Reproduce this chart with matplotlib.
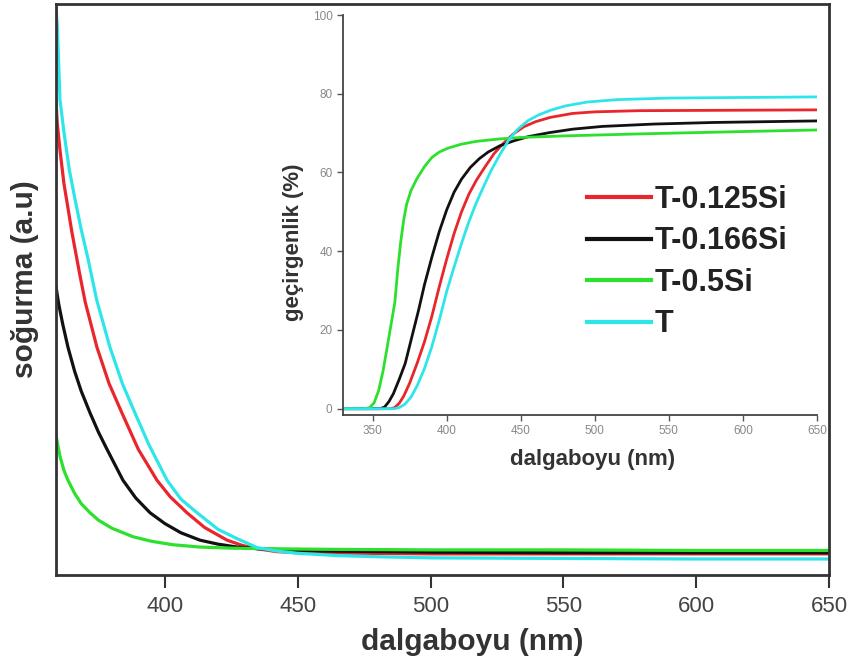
import matplotlib
matplotlib.use("Agg")
import matplotlib.pyplot as plt

plt.rcParams["font.family"] = ["Liberation Sans", "DejaVu Sans"]

# main panel: absorption (arbitrary units, 0 = bottom of frame, 1 = top)
abs_0125_x = [359, 359.5, 360.5, 362, 363, 365, 368, 370, 374.4, 379, 383.8, 390, 397, 402,
              408.3, 415, 423.4, 429, 434.7, 442, 450, 475, 500, 550, 600, 650]
abs_0125_y = [0.83, 0.79, 0.744, 0.685, 0.657, 0.60, 0.525, 0.478, 0.399, 0.335, 0.284, 0.22,
              0.166, 0.137, 0.109, 0.083, 0.061, 0.052, 0.046, 0.041, 0.039, 0.038, 0.037,
              0.037, 0.037, 0.037]
abs_0166_x = [359, 360, 361.5, 363.5, 366, 368.5, 371.8, 375, 378, 384.2, 389, 394.4, 400,
              406, 413.2, 420, 427.1, 435, 445, 460, 500, 550, 600, 650]
abs_0166_y = [0.505, 0.475, 0.44, 0.399, 0.357, 0.322, 0.284, 0.25, 0.222, 0.166, 0.135, 0.109,
              0.09, 0.074, 0.061, 0.054, 0.049, 0.046, 0.044, 0.042, 0.040, 0.039, 0.039, 0.039]
abs_05_x = [359, 359.5, 360.5, 362, 363.5, 366, 368.5, 371.8, 375, 380, 388, 395, 403, 413,
            425, 440, 460, 500, 550, 600, 650]
abs_05_y = [0.245, 0.232, 0.208, 0.183, 0.166, 0.143, 0.125, 0.109, 0.096, 0.082, 0.067, 0.059,
            0.053, 0.049, 0.047, 0.046, 0.045, 0.044, 0.044, 0.043, 0.043]
abs_T_x = [359, 359.5, 360.5, 362, 364, 366.2, 368.5, 371, 374.3, 379.3, 384, 388.7, 394,
           400.8, 406, 412.1, 420, 427, 434.7, 442, 450, 465, 480, 500, 550, 600, 650]
abs_T_y = [0.995, 0.96, 0.832, 0.775, 0.71, 0.657, 0.605, 0.555, 0.482, 0.399, 0.335, 0.284,
           0.228, 0.166, 0.133, 0.109, 0.080, 0.064, 0.048, 0.042, 0.038, 0.034, 0.032, 0.030,
           0.029, 0.028, 0.028]

# inset: transmittance (%)
tr_0125_x = [330, 362, 365, 368, 371, 375, 380, 385, 390, 395, 400, 405, 410, 415, 420, 426,
             432, 438, 445, 452, 460, 470, 485, 500, 530, 650]
tr_0125_y = [0, 0, 0.3, 1.4, 3.2, 6.5, 11.5, 17, 23.5, 31, 38, 44.5, 50, 54.5, 58, 61.5,
             64.8, 67.3, 69.8, 71.6, 72.9, 74, 75, 75.4, 75.7, 75.9]
tr_0166_x = [330, 355, 358, 361, 364, 368, 372, 377, 381, 385, 390, 395, 400, 405, 410, 416,
             422, 428, 436, 445, 455, 469, 485, 505, 540, 580, 650]
tr_0166_y = [0, 0, 0.4, 1.8, 3.8, 7.5, 11.5, 19, 25, 31.5, 38.5, 45, 50.5, 55, 58.3, 61.3,
             63.5, 65.2, 66.8, 68, 69.1, 70.1, 71, 71.7, 72.3, 72.7, 73.1]
tr_05_x = [330, 345, 348, 351, 354, 357, 360, 362.5, 365, 367, 369, 371, 373, 376, 380, 385,
           390, 395, 401, 410, 420, 435, 450, 480, 530, 600, 650]
tr_05_y = [0, 0, 0.3, 1.5, 4.5, 9.5, 16, 21.5, 27, 35.5, 42.5, 48, 52, 55.5, 58.5, 61.5,
           63.8, 65.2, 66.2, 67.2, 67.9, 68.5, 68.9, 69.3, 69.8, 70.4, 70.8]
tr_T_x = [330, 365, 368, 372, 376, 380, 385, 390, 395, 400, 405, 410, 415, 420, 425, 430,
          436, 442, 448, 455, 462, 470, 480, 495, 515, 550, 650]
tr_T_y = [0, 0, 0.3, 1.2, 3, 5.8, 10.2, 15.8, 22.5, 29.8, 36, 42, 47.5, 52.3, 56.5, 60.5,
          64.6, 68.3, 71, 73.2, 74.6, 75.8, 76.9, 77.9, 78.5, 78.9, 79.2]

labels = ["T-0.125Si", "T-0.166Si", "T-0.5Si", "T"]
colors = ["#e8262b", "#111111", "#2de02d", "#2ee6ea"]

fig = plt.figure(figsize=(8.54, 6.68), dpi=100)

# main axes
ax = fig.add_axes([56 / 854, 1 - 575 / 668, (829 - 56) / 854, (575 - 4) / 668])
for xs, ys, c in zip([abs_0125_x, abs_0166_x, abs_05_x, abs_T_x],
                     [abs_0125_y, abs_0166_y, abs_05_y, abs_T_y], colors):
    ax.plot(xs, ys, color=c, lw=2.3)
ax.set_xlim(359, 650)
ax.set_ylim(0, 1)
ax.set_xticks([400, 450, 500, 550, 600, 650])
ax.set_yticks([])
ax.tick_params(axis="x", direction="out", length=9, width=1.5, colors="#333333",
               labelsize=16, pad=6, labelcolor="#444444")
for s in ax.spines.values():
    s.set_color("#333333")
    s.set_linewidth(2)
ax.set_xlabel("dalgaboyu (nm)", fontsize=21.5, fontweight="bold", color="#333333")
ax.xaxis.set_label_coords(0.538, -0.092)
ax.set_ylabel("soğurma (a.u)", fontsize=21.5, fontweight="bold", color="#333333")
ax.yaxis.set_label_coords(-0.022, 0.518)

# inset axes
ins = fig.add_axes([343 / 854, 1 - 415 / 668, (817 - 343) / 854, (415 - 15) / 668])
ins.patch.set_alpha(0)
for xs, ys, c, lab in zip([tr_0125_x, tr_0166_x, tr_05_x, tr_T_x],
                          [tr_0125_y, tr_0166_y, tr_05_y, tr_T_y], colors, labels):
    ins.plot(xs, ys, color=c, lw=2, label=lab)
ins.set_xlim(330, 650)
ins.set_ylim(-1.6, 100)
ins.set_xticks([350, 400, 450, 500, 550, 600, 650])
ins.set_yticks([0, 20, 40, 60, 80, 100])
ins.spines["top"].set_visible(False)
ins.spines["right"].set_visible(False)
for s in ["left", "bottom"]:
    ins.spines[s].set_color("#444444")
    ins.spines[s].set_linewidth(1.3)
ins.tick_params(direction="out", length=4, width=1, colors="#555555", labelsize=8.5,
                labelcolor="#888888")
ins.set_xlabel("dalgaboyu (nm)", fontsize=16, fontweight="bold", color="#333333")
ins.xaxis.set_label_coords(0.527, -0.085)
ins.set_ylabel("geçirgenlik (%)", fontsize=16, fontweight="bold", color="#333333")
ins.yaxis.set_label_coords(-0.082, 0.4325)

leg = ins.legend(loc="center left", bbox_to_anchor=(587 / 854, 1 - 262 / 668),
                 bbox_transform=fig.transFigure, frameon=False, borderpad=0,
                 borderaxespad=0, handlelength=2.1, handletextpad=0.12,
                 labelspacing=0.38, prop={"size": 22, "weight": "bold"})
for line in leg.get_lines():
    line.set_linewidth(3)
for t in leg.get_texts():
    t.set_color("#222222")

fig.savefig("out.png", dpi=100)
